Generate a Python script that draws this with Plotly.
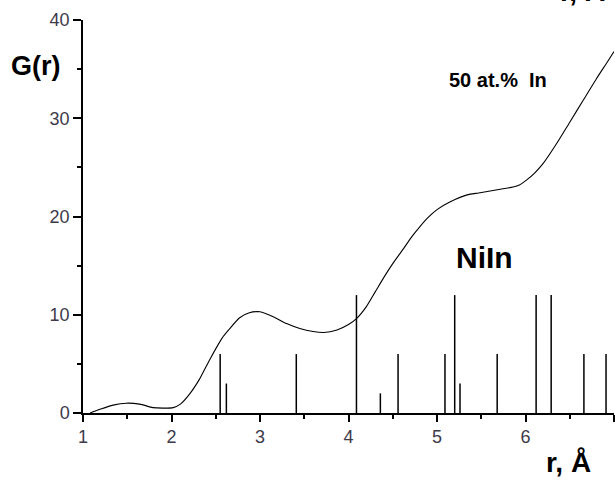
import plotly.graph_objects as go

# Experimental G(r) curve, 50 at.% In
r_curve = [1.08, 1.2, 1.34, 1.49, 1.64, 1.79, 1.9, 2.02, 2.10, 2.21, 2.32, 2.43, 2.57, 2.65,
           2.77, 2.88, 3.0, 3.15, 3.30, 3.45, 3.6, 3.72, 3.87, 4.0, 4.09, 4.20, 4.30, 4.40,
           4.50, 4.62, 4.72, 4.81, 4.90, 5.0, 5.15, 5.34, 5.47, 5.60, 5.73, 5.86, 5.93, 6.01,
           6.10, 6.20, 6.35, 6.50, 6.65, 6.80, 6.93, 7.0]
g_curve = [0.0, 0.4, 0.8, 1.0, 0.9, 0.55, 0.5, 0.55, 0.9, 2.0, 3.5, 5.4, 7.6, 8.5,
           9.7, 10.2, 10.3, 9.8, 9.1, 8.6, 8.3, 8.2, 8.45, 9.0, 9.6, 10.8, 12.3, 13.8,
           15.2, 16.7, 18.0, 19.0, 19.9, 20.7, 21.5, 22.2, 22.4, 22.6, 22.8, 23.0, 23.2, 23.7,
           24.4, 25.4, 27.4, 29.6, 31.8, 34.0, 35.8, 36.8]

# NiIn reference line positions and heights
niin_r = [2.55, 2.62, 3.41, 4.09, 4.36, 4.56, 5.09, 5.20, 5.26, 5.68, 6.12, 6.29, 6.66, 6.91]
niin_h = [6, 3, 6, 12, 2, 6, 6, 12, 3, 6, 12, 12, 6, 6]

x_ticks = [1, 2, 3, 4, 5, 6, 7]
y_ticks = [0, 10, 20, 30, 40]

stick_x, stick_y = [], []
for r, h in zip(niin_r, niin_h):
    stick_x += [r, r, None]
    stick_y += [0, h, None]

fig = go.Figure()
fig.add_trace(go.Scatter(x=stick_x, y=stick_y, mode="lines",
                         line=dict(color="black", width=1.5), showlegend=False,
                         hoverinfo="skip"))
fig.add_trace(go.Scatter(x=r_curve, y=g_curve, mode="lines",
                         line=dict(color="black", width=1.1, shape="spline", smoothing=0.7),
                         showlegend=False))

tickfont = dict(family="Liberation Sans, Arial", size=18, color="#3d3a4a")
axis_common = dict(showline=True, linecolor="black", linewidth=1.5, showgrid=False,
                   zeroline=False, ticks="outside", tickcolor="black", tickwidth=1.5,
                   tickfont=tickfont)

fig.update_xaxes(range=[1, 7], tickvals=x_ticks, ticklen=7,
                 minor=dict(dtick=0.5, ticklen=4, tickwidth=1.5, tickcolor="black",
                            ticks="outside", showgrid=False),
                 **axis_common)
fig.update_yaxes(range=[0, 40], tickvals=y_ticks, ticklen=8,
                 minor=dict(dtick=5, ticklen=4, tickwidth=1.5, tickcolor="black",
                            ticks="outside", showgrid=False),
                 **axis_common)

bold = dict(family="Liberation Sans, Arial", color="black")
annotations = [
    dict(text="<b>G(r)</b>", xref="paper", yref="paper", x=-0.088, y=0.883,
         font=dict(size=27, **bold)),
    dict(text="<b>50 at.%\u00a0 In</b>", xref="x", yref="y", x=5.69, y=33.9,
         font=dict(size=20, **bold)),
    dict(text="<b>NiIn</b>", xref="x", yref="y", x=5.54, y=15.8,
         font=dict(size=30, **bold)),
    dict(text="<b>r, Å</b>", xref="paper", yref="paper", x=0.915, y=-0.127,
         font=dict(size=28, **bold)),
    dict(text="<b>r, Å</b>", xref="paper", yref="paper", x=0.941, y=1.073,
         font=dict(size=28, **bold)),
]
for a in annotations:
    a.update(showarrow=False, xanchor="center", yanchor="middle")

fig.update_layout(width=615, height=482, margin=dict(l=83, r=1, t=20, b=69),
                  paper_bgcolor="white", plot_bgcolor="white",
                  annotations=annotations)

fig.write_html("out.html")
